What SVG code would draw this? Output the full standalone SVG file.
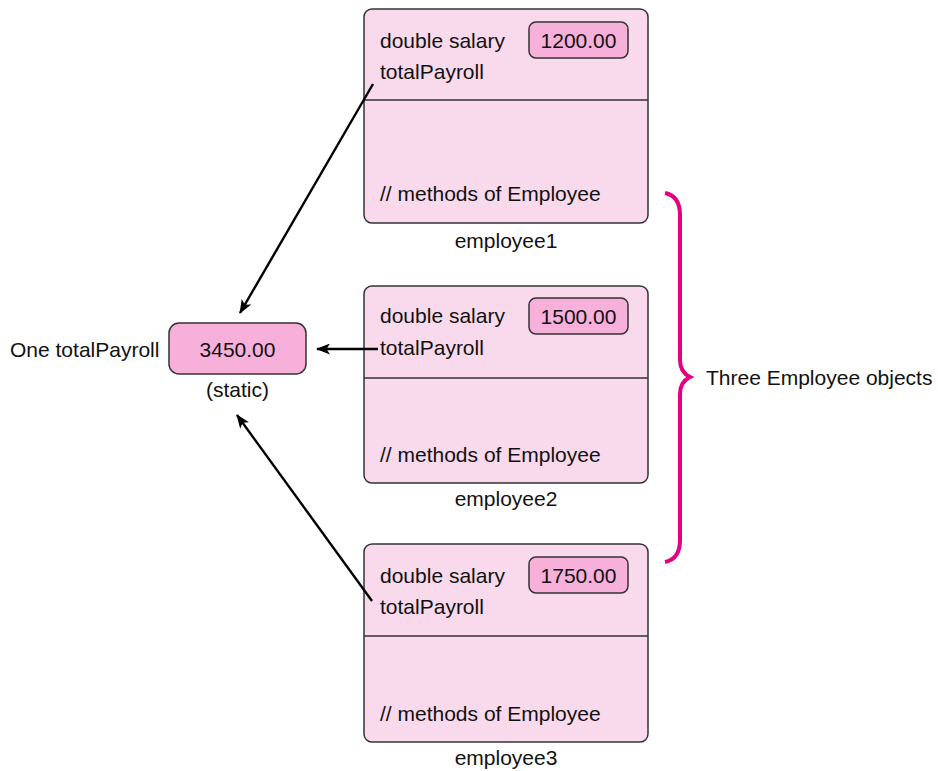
<svg xmlns="http://www.w3.org/2000/svg" width="938" height="771" viewBox="0 0 938 771">
<style>
text{font-family:"Liberation Sans",Arial,sans-serif;font-size:21px;fill:#111}
.obj{fill:#f9d9ec;stroke:#333;stroke-width:1.5}
.val{fill:#f6b0da;stroke:#333;stroke-width:1.5}
.div{stroke:#333;stroke-width:1.5}
.conn{stroke:#000;stroke-width:2.4;fill:none;marker-end:url(#ah)}
.mid{text-anchor:middle}
</style>
<defs>
<marker id="ah" viewBox="0 0 14 11" refX="13" refY="5.5" markerWidth="14" markerHeight="11" markerUnits="userSpaceOnUse" orient="auto">
<path d="M0,0 L14,5.5 L0,11 L3.5,5.5 Z" fill="#000"/>
</marker>
</defs>
<g id="employee1">
<rect class="obj" x="364" y="9" width="284" height="214" rx="8"/>
<line class="div" x1="364" y1="100" x2="648" y2="100"/>
<text x="380" y="48">double salary</text>
<rect class="val" x="529" y="22" width="99" height="36" rx="7"/>
<text class="mid" x="578.5" y="48">1200.00</text>
<text x="380" y="79">totalPayroll</text>
<text x="380" y="201">// methods of Employee</text>
<text class="mid" x="506" y="248">employee1</text>
</g>
<g id="employee2">
<rect class="obj" x="364" y="286" width="284" height="197" rx="8"/>
<line class="div" x1="364" y1="378" x2="648" y2="378"/>
<text x="380" y="323">double salary</text>
<rect class="val" x="529" y="298" width="99" height="36" rx="7"/>
<text class="mid" x="578.5" y="324">1500.00</text>
<text x="380" y="355">totalPayroll</text>
<text x="380" y="462">// methods of Employee</text>
<text class="mid" x="506" y="506">employee2</text>
</g>
<g id="employee3">
<rect class="obj" x="364" y="544" width="284" height="198" rx="8"/>
<line class="div" x1="364" y1="636" x2="648" y2="636"/>
<text x="380" y="583">double salary</text>
<rect class="val" x="529" y="557" width="99" height="36" rx="7"/>
<text class="mid" x="578.5" y="583">1750.00</text>
<text x="380" y="614">totalPayroll</text>
<text x="380" y="721">// methods of Employee</text>
<text class="mid" x="506" y="765">employee3</text>
</g>
<g id="totalPayroll">
<text x="10" y="357">One totalPayroll</text>
<rect class="val" x="169" y="323" width="137" height="51" rx="10"/>
<text class="mid" x="237.5" y="357">3450.00</text>
<text class="mid" x="237.5" y="397">(static)</text>
</g>
<g id="brace">
<path d="M665,193 Q680,196 680,215 L680,360 Q680,372 690,377 Q680,382 680,394 L680,540 Q680,559 665,562" fill="none" stroke="#e6007e" stroke-width="4"/>
<text x="706" y="385">Three Employee objects</text>
</g>
<g id="connectors">
<line class="conn" x1="373" y1="84" x2="240" y2="313"/>
<line class="conn" x1="378" y1="349" x2="317" y2="349"/>
<line class="conn" x1="372" y1="601" x2="237" y2="415"/>
</g>
</svg>
